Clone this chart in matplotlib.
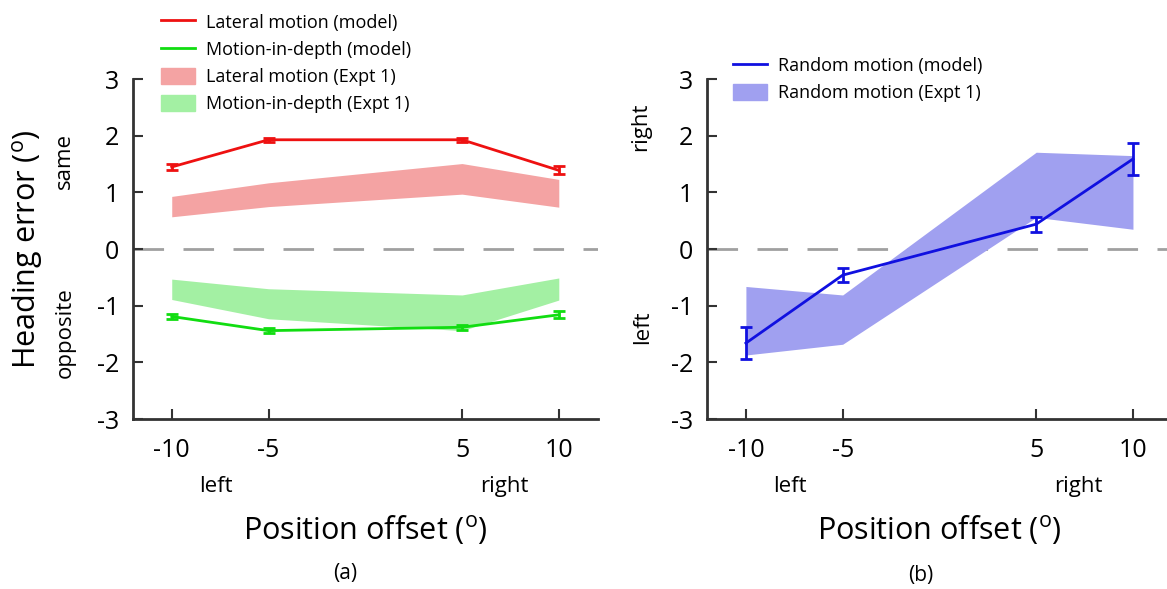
import matplotlib
matplotlib.use("Agg")
import matplotlib.pyplot as plt
import numpy as np
from matplotlib.patches import Patch
from matplotlib.lines import Line2D

# data
offsets = [-10, -5, 5, 10]

lat_model = [1.45, 1.93, 1.93, 1.39]
lat_model_err = [0.06, 0.04, 0.04, 0.07]
lat_lo = [0.57, 0.75, 0.97, 0.74]
lat_hi = [0.93, 1.17, 1.51, 1.23]

mid_model = [-1.19, -1.44, -1.38, -1.16]
mid_model_err = [0.05, 0.04, 0.04, 0.06]
mid_lo = [-0.89, -1.23, -1.44, -0.90]
mid_hi = [-0.53, -0.70, -0.81, -0.51]

rnd_model = [-1.66, -0.46, 0.44, 1.59]
rnd_model_err = [0.28, 0.12, 0.13, 0.28]
rnd_lo = [-1.87, -1.68, 0.56, 0.35]
rnd_hi = [-0.66, -0.81, 1.71, 1.65]

yticks = [-3, -2, -1, 0, 1, 2, 3]
xticks = [-10, -5, 5, 10]

plt.rcParams['font.family'] = ['Open Sans', 'DejaVu Sans']
plt.rcParams['mathtext.fontset'] = 'custom'
plt.rcParams['mathtext.rm'] = 'Open Sans'

fig = plt.figure(figsize=(11.67, 5.89), dpi=100)
ax1 = fig.add_axes([0.114, 0.2886, 0.398, 0.577])
ax2 = fig.add_axes([0.606, 0.2886, 0.398, 0.577])

spine_col = '#333333'
for ax in (ax1, ax2):
    ax.set_xlim(-12, 12)
    ax.set_ylim(-3, 3)
    ax.set_xticks(xticks)
    ax.set_xticklabels([str(v) for v in xticks])
    ax.set_yticks(yticks)
    ax.set_yticklabels([str(v) for v in yticks])
    ax.spines['top'].set_visible(False)
    ax.spines['right'].set_visible(False)
    ax.spines['left'].set_linewidth(2)
    ax.spines['bottom'].set_linewidth(2)
    ax.spines['left'].set_color(spine_col)
    ax.spines['bottom'].set_color(spine_col)
    ax.tick_params(direction='in', length=7, width=1.5, color=spine_col, labelsize=18)
    ax.tick_params(axis='x', pad=14)
    ax.tick_params(axis='y', pad=10)
    ax.axhline(0, color='#a0a0a0', lw=2, dashes=(11, 7), zorder=1)
    ax.set_xlabel('Position offset ($^\\mathrm{o}$)', fontsize=22, labelpad=36)
    ax.text(-7.7, -0.2, 'left', transform=ax.get_xaxis_transform(), ha='center', va='center', fontsize=16)
    ax.text(7.2, -0.2, 'right', transform=ax.get_xaxis_transform(), ha='center', va='center', fontsize=16)

# panel (a)
ax1.fill_between(offsets, lat_lo, lat_hi, color='#f4a3a3', lw=0, zorder=2)
ax1.fill_between(offsets, mid_lo, mid_hi, color='#a3f0a3', lw=0, zorder=2)
ax1.errorbar(offsets, lat_model, yerr=lat_model_err, color='#ee1111', lw=2,
             capsize=4, capthick=2, elinewidth=2, zorder=3)
ax1.errorbar(offsets, mid_model, yerr=mid_model_err, color='#11dd11', lw=2,
             capsize=4, capthick=2, elinewidth=2, zorder=3)
ax1.set_ylabel('Heading error ($^\\mathrm{o}$)', fontsize=22)
ax1.yaxis.set_label_coords(-0.19, 0.5)
ax1.text(-0.147, 0.76, 'same', transform=ax1.transAxes, rotation=90, ha='center', va='center', fontsize=16)
ax1.text(-0.147, 0.253, 'opposite', transform=ax1.transAxes, rotation=90, ha='center', va='center', fontsize=16)

h1 = [Line2D([], [], color='#ee1111', lw=2), Line2D([], [], color='#11dd11', lw=2),
      Patch(color='#f4a3a3'), Patch(color='#a3f0a3')]
l1 = ['Lateral motion (model)', 'Motion-in-depth (model)',
      'Lateral motion (Expt 1)', 'Motion-in-depth (Expt 1)']
ax1.legend(h1, l1, loc='upper left', bbox_to_anchor=(0.045, 1.215), frameon=False,
           prop={'family': 'Open Sans', 'size': 13}, handlelength=1.9, handleheight=1.0,
           labelspacing=0.5, handletextpad=0.6, borderaxespad=0)

# panel (b)
ax2.fill_between(offsets, rnd_lo, rnd_hi, color='#a0a0f0', lw=0, zorder=2)
ax2.errorbar(offsets, rnd_model, yerr=rnd_model_err, color='#1010e0', lw=2,
             capsize=4, capthick=2, elinewidth=2, zorder=3)
ax2.text(-0.144, 0.86, 'right', transform=ax2.transAxes, rotation=90, ha='center', va='center', fontsize=16)
ax2.text(-0.138, 0.27, 'left', transform=ax2.transAxes, rotation=90, ha='center', va='center', fontsize=16)
h2 = [Line2D([], [], color='#1010e0', lw=2), Patch(color='#a0a0f0')]
l2 = ['Random motion (model)', 'Random motion (Expt 1)']
ax2.legend(h2, l2, loc='upper left', bbox_to_anchor=(0.04, 1.088), frameon=False,
           prop={'family': 'Open Sans', 'size': 13}, handlelength=1.9, handleheight=1.0,
           labelspacing=0.5, handletextpad=0.6, borderaxespad=0)

fig.text(345 / 1167, 1 - 573 / 589, '(a)', ha='center', va='center', fontsize=15)
fig.text(921 / 1167, 1 - 575 / 589, '(b)', ha='center', va='center', fontsize=15)

fig.savefig('out.png', dpi=100)
